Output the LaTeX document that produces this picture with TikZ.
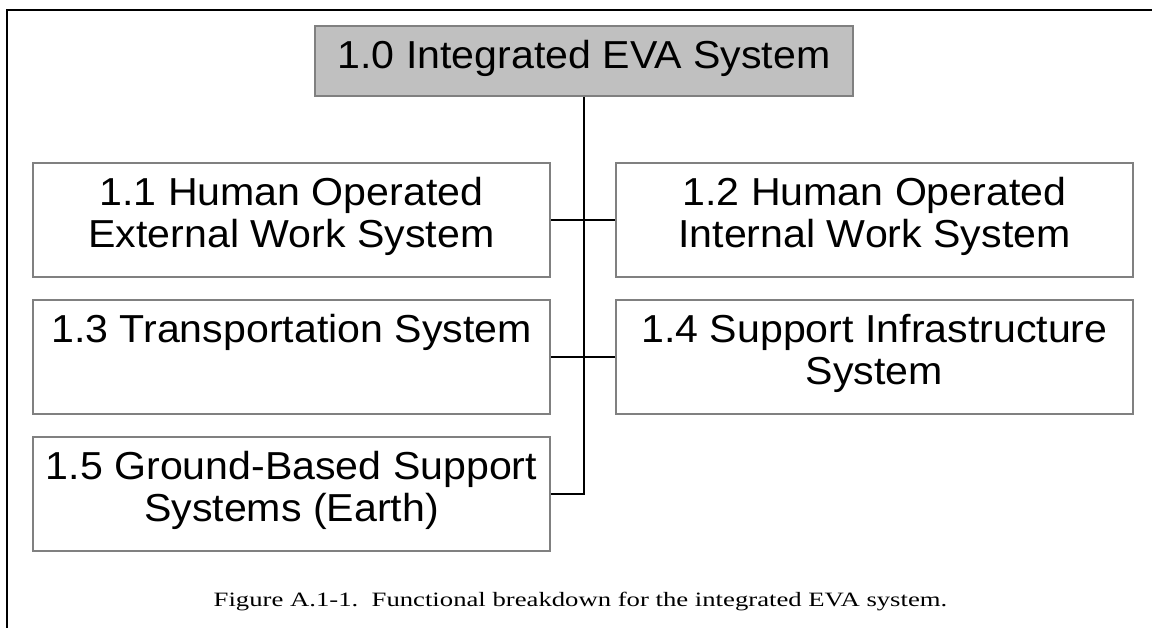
\documentclass[tikz,border=0pt]{standalone}
\usepackage{fontspec}
\setmainfont{Liberation Sans}[FakeStretch=1.054]
\newfontfamily\capfont{Liberation Serif}[FakeStretch=1.31]
\newdimen\pxu
\pxu=0.02cm
\definecolor{bordergray}{HTML}{808080}
\definecolor{topgray}{HTML}{C0C0C0}
\begin{document}
\begin{tikzpicture}[x=0.02cm,y=-0.02cm,
  box/.style={draw=bordergray, line width=2\pxu, inner sep=0pt, minimum width=517\pxu, minimum height=114\pxu},
  lbl/.style={font=\fontsize{22.2}{24}\selectfont, align=center, inner sep=0pt, anchor=north},
  conn/.style={line width=2\pxu, draw=black},
  frame/.style={line width=2\pxu, draw=black}]
\useasboundingbox (0,0) rectangle (1152,628);
\draw[frame] (7,628) -- (7,10) -- (1152,10);
% top box
\node[box, fill=topgray, minimum width=538\pxu, minimum height=70\pxu] (b10) at (584,61) {};
\node[lbl] (t10) at ([yshift=-15\pxu]b10.north) {1.0 Integrated EVA System};
% child boxes
\node[box] (b11) at (291.5,220) {};
\node[box] (b12) at (874.5,220) {};
\node[box] (b13) at (291.5,356.5) {};
\node[box] (b14) at (874.5,356.5) {};
\node[box] (b15) at (291.5,494) {};
\node[lbl] (t11) at ([yshift=-15\pxu]b11.north) {1.1 Human Operated\\External Work System};
\node[lbl] (t12) at ([yshift=-15\pxu]b12.north) {1.2 Human Operated\\Internal Work System};
\node[lbl] (t13) at ([yshift=-15\pxu]b13.north) {1.3 Transportation System};
\node[lbl] (t14) at ([yshift=-15\pxu]b14.north) {1.4 Support Infrastructure\\System};
\node[lbl] (t15) at ([yshift=-15\pxu]b15.north) {1.5 Ground-Based Support\\Systems (Earth)};
% connectors
\draw[conn] (b10.south) -- (b10.south |- b15.east) -- (b15.east);
\draw[conn] (b11.east) -- (b12.west);
\draw[conn] (b13.east) -- (b14.west);
% caption
\node[font=\capfont\fontsize{11.6}{14}\selectfont, anchor=base, inner sep=0pt] (cap) at (580.5,606) {Figure A.1-1.\ \ Functional breakdown for the integrated EVA system.};
\end{tikzpicture}
\end{document}
